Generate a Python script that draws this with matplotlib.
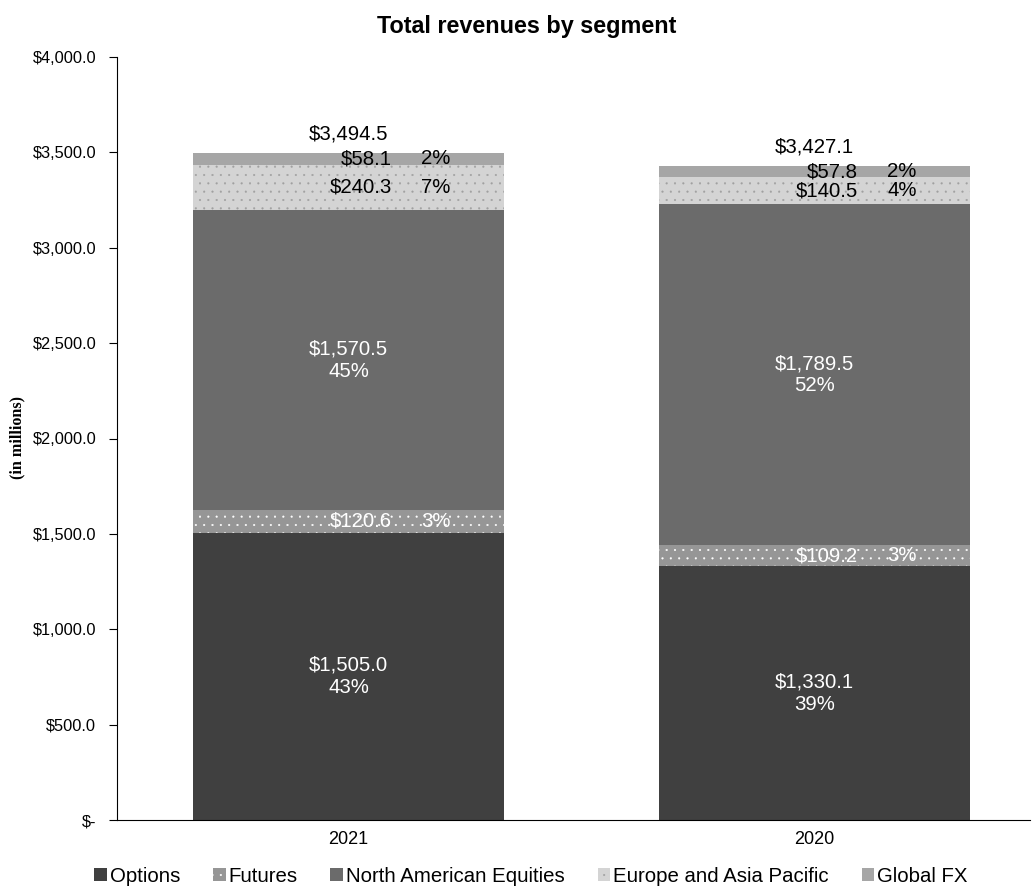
import matplotlib
matplotlib.use("Agg")
import matplotlib.pyplot as plt
import numpy as np

plt.rcParams['font.family'] = ['Liberation Sans', 'DejaVu Sans']
plt.rcParams['hatch.linewidth'] = 0.3

years = ["2021", "2020"]
segments = ["Options", "Futures", "North American Equities", "Europe and Asia Pacific", "Global FX"]
options = [1505.0, 1330.1]
futures = [120.6, 109.2]
na_equities = [1570.5, 1789.5]
europe_ap = [240.3, 140.5]
global_fx = [58.1, 57.8]
totals = [3494.5, 3427.1]

series = [options, futures, na_equities, europe_ap, global_fx]
colors = ["#404040", "#969696", "#6b6b6b", "#d4d4d4", "#a6a6a6"]
hatch_colors = [None, "#ffffff", None, "#a0a0a0", None]
hatches = [None, "..", None, "..", None]
text_colors = ["white", "white", "white", "black", "black"]
style = ["center", "side", "center", "side", "side"]

FS = 14.7

fig = plt.figure(figsize=(10.34, 8.9), dpi=100)
ax = fig.add_axes([117 / 1034, 70 / 890, (1030 - 117) / 1034, (820 - 57) / 890])

x = np.arange(len(years))
width = 0.667
bottom = np.zeros(len(years))
for i, (name, vals) in enumerate(zip(segments, series)):
    vals = np.array(vals)
    kw = dict(color=colors[i], linewidth=0)
    if hatches[i]:
        kw.update(hatch=hatches[i], edgecolor=hatch_colors[i])
    ax.bar(x, vals, width, bottom=bottom, label=name, **kw)
    for j in range(len(years)):
        pct = round(vals[j] / totals[j] * 100)
        yc = bottom[j] + vals[j] / 2
        if style[i] == "center":
            ax.text(x[j], yc, f"${vals[j]:,.1f}\n{pct}%", ha="center", va="center",
                    color=text_colors[i], fontsize=FS, linespacing=1.2)
        else:
            ax.text(x[j] + 0.093, yc, f"${vals[j]:,.1f}", ha="right", va="center",
                    color=text_colors[i], fontsize=FS)
            ax.text(x[j] + 0.156, yc, f"{pct}%", ha="left", va="center",
                    color=text_colors[i], fontsize=FS)
    bottom += vals

for j in range(len(years)):
    ax.annotate(f"${totals[j]:,.1f}", xy=(x[j], totals[j]), xytext=(0, 7),
                textcoords="offset points", ha="center", va="bottom",
                color="black", fontsize=FS)

ax.set_xlim(-0.497, 1.462)
ax.set_ylim(0, 4000)
yt = np.arange(0, 4001, 500)
ax.set_yticks(yt)
ax.set_yticklabels(["$-" if v == 0 else f"${v:,.1f}" for v in yt], fontsize=11.8)
ax.set_xticks(x)
ax.set_xticklabels(years, fontsize=13)
ax.tick_params(axis="x", length=0, pad=8)
ax.tick_params(axis="y", length=6, direction="out", pad=9)
for s in ["top", "right"]:
    ax.spines[s].set_visible(False)

fig.text(527 / 1034, 1 - 27 / 890, "Total revenues by segment", fontsize=16.8,
         fontweight="bold", ha="center", va="center")
fig.text(17 / 1034, 1 - 437 / 890, "(in millions)", fontsize=11.6, fontweight="bold",
         family="Liberation Serif", rotation=90, ha="center", va="center")

leg = fig.legend(loc="center", bbox_to_anchor=(531 / 1034, 1 - 876 / 890), ncol=5, frameon=False,
                 fontsize=FS, handlelength=0.62, handleheight=0.62, handletextpad=0.15,
                 columnspacing=1.6, borderpad=0, borderaxespad=0)

fig.savefig("out.png", dpi=100)
